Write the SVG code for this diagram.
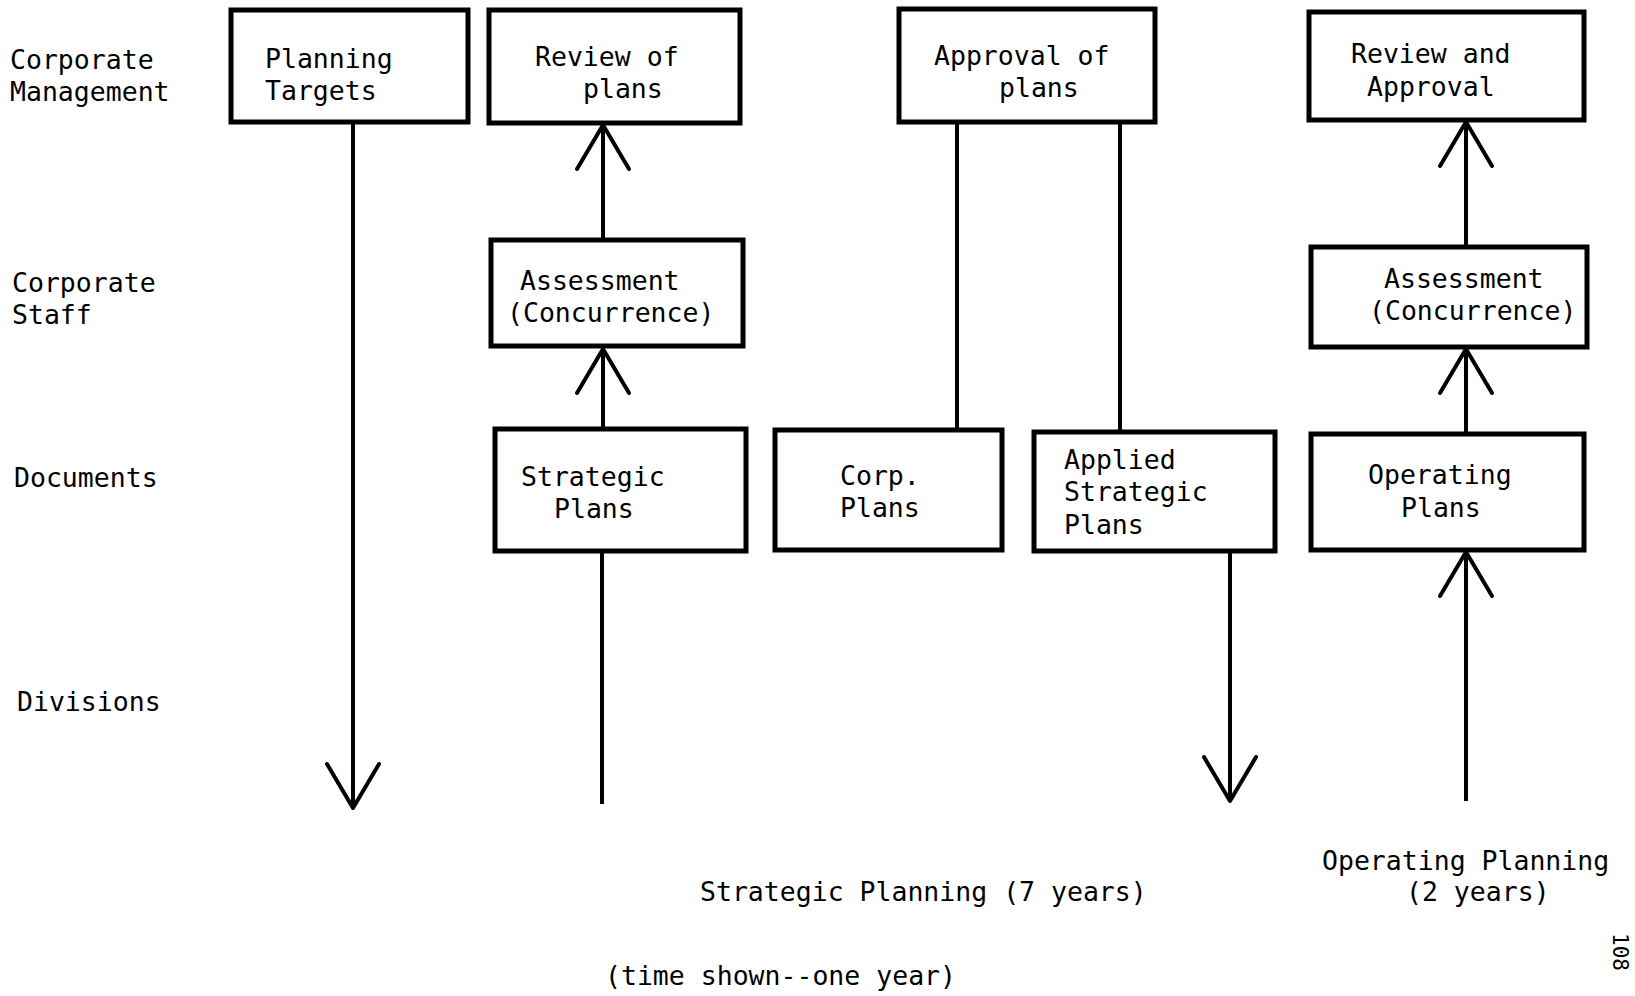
<svg xmlns="http://www.w3.org/2000/svg" width="1635" height="996" viewBox="0 0 1635 996">
<style>
  .box { fill: #ffffff; stroke: #000000; stroke-width: 5; }
  .t { font-family: "DejaVu Sans Mono", "Liberation Mono", monospace; font-size: 26.5px; fill: #000000; }
  .pg { font-family: "DejaVu Sans Mono", "Liberation Mono", monospace; font-size: 21px; fill: #000000; }
  .ln { fill: none; stroke: #000000; stroke-width: 4; }
</style>
<defs>
  <marker id="arr" markerUnits="userSpaceOnUse" viewBox="-50 -32 56 64" refX="0" refY="0" markerWidth="56" markerHeight="64" orient="auto">
    <path d="M -44 -26 L 0 0 L -44 26" fill="none" stroke="#000000" stroke-width="4" stroke-linejoin="round" stroke-linecap="round"/>
  </marker>
</defs>
<rect width="1635" height="996" fill="#ffffff"/>

<g id="row-labels">
  <text class="t" x="10" y="69">Corporate</text>
  <text class="t" x="10" y="101">Management</text>
  <text class="t" x="12" y="292">Corporate</text>
  <text class="t" x="12" y="324">Staff</text>
  <text class="t" x="14" y="487">Documents</text>
  <text class="t" x="17" y="711">Divisions</text>
</g>

<g id="connectors">
  <path class="ln" d="M353 122 V808" marker-end="url(#arr)"/>
  <path class="ln" d="M603 240 V125" marker-end="url(#arr)"/>
  <path class="ln" d="M603 429 V349" marker-end="url(#arr)"/>
  <path class="ln" d="M602 804 V551"/>
  <path class="ln" d="M957 122 V430"/>
  <path class="ln" d="M1120 122 V432"/>
  <path class="ln" d="M1230 551 V801" marker-end="url(#arr)"/>
  <path class="ln" d="M1466 247 V122" marker-end="url(#arr)"/>
  <path class="ln" d="M1466 434 V349" marker-end="url(#arr)"/>
  <path class="ln" d="M1466 801 V552" marker-end="url(#arr)"/>
</g>

<g id="planning-targets">
  <rect class="box" x="231" y="10" width="237" height="112"/>
  <text class="t" x="265" y="68">Planning</text>
  <text class="t" x="265" y="100">Targets</text>
</g>
<g id="review-of-plans">
  <rect class="box" x="489" y="10" width="251" height="113"/>
  <text class="t" x="535" y="66">Review of</text>
  <text class="t" x="583" y="98">plans</text>
</g>
<g id="approval-of-plans">
  <rect class="box" x="899" y="9" width="256" height="113"/>
  <text class="t" x="934" y="65">Approval of</text>
  <text class="t" x="999" y="97">plans</text>
</g>
<g id="review-and-approval">
  <rect class="box" x="1309" y="12" width="275" height="108"/>
  <text class="t" x="1351" y="63">Review and</text>
  <text class="t" x="1367" y="96">Approval</text>
</g>
<g id="assessment-strategic">
  <rect class="box" x="491" y="240" width="252" height="106"/>
  <text class="t" x="520" y="290">Assessment</text>
  <text class="t" x="507" y="322">(Concurrence)</text>
</g>
<g id="assessment-operating">
  <rect class="box" x="1311" y="247" width="276" height="100"/>
  <text class="t" x="1384" y="288">Assessment</text>
  <text class="t" x="1369" y="320">(Concurrence)</text>
</g>
<g id="strategic-plans">
  <rect class="box" x="495" y="429" width="251" height="122"/>
  <text class="t" x="521" y="486">Strategic</text>
  <text class="t" x="554" y="518">Plans</text>
</g>
<g id="corp-plans">
  <rect class="box" x="775" y="430" width="227" height="120"/>
  <text class="t" x="840" y="485">Corp.</text>
  <text class="t" x="840" y="517">Plans</text>
</g>
<g id="applied-strategic-plans">
  <rect class="box" x="1034" y="432" width="241" height="119"/>
  <text class="t" x="1064" y="469">Applied</text>
  <text class="t" x="1064" y="501">Strategic</text>
  <text class="t" x="1064" y="534">Plans</text>
</g>
<g id="operating-plans">
  <rect class="box" x="1311" y="434" width="273" height="116"/>
  <text class="t" x="1368" y="484">Operating</text>
  <text class="t" x="1401" y="517">Plans</text>
</g>

<g id="captions">
  <text class="t" x="700" y="901">Strategic Planning (7 years)</text>
  <text class="t" x="1322" y="870">Operating Planning</text>
  <text class="t" x="1406" y="901">(2 years)</text>
  <text class="t" x="605" y="985">(time shown--one year)</text>
  <text class="pg" transform="translate(1613,933) rotate(90)">108</text>
</g>
</svg>
